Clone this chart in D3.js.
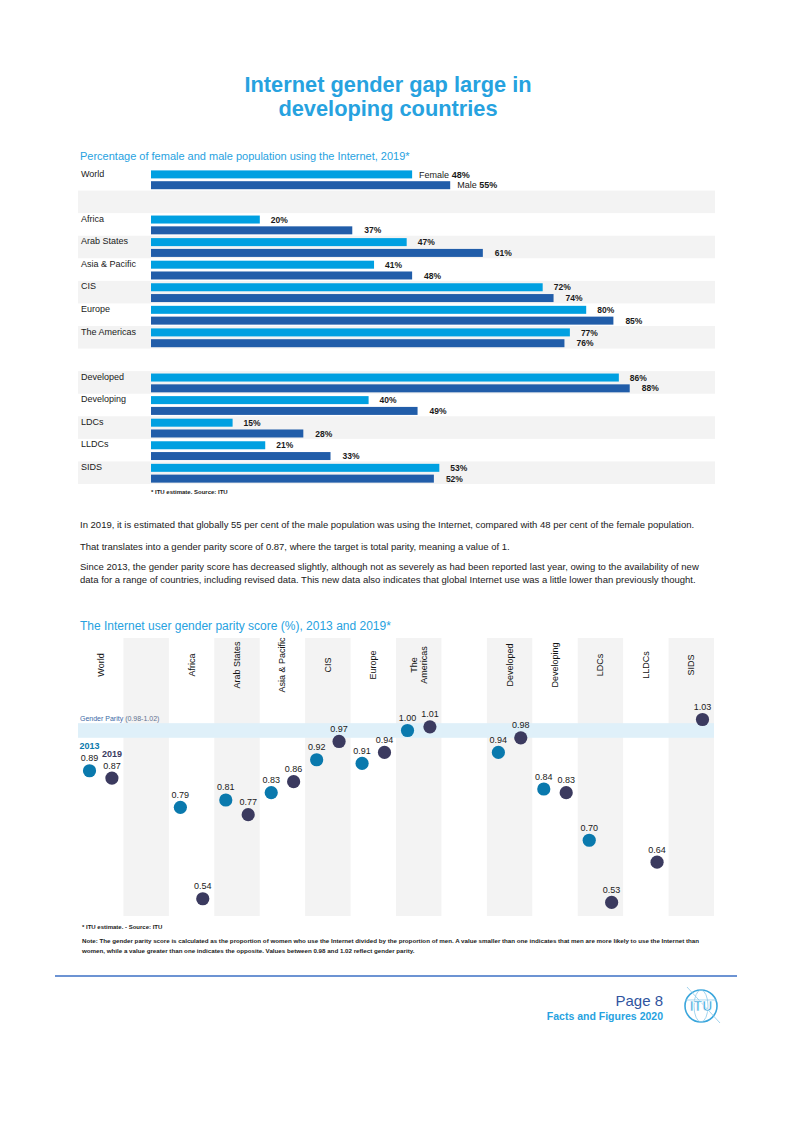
<!DOCTYPE html>
<html>
<head>
<meta charset="utf-8">
<script src="https://cdn.jsdelivr.net/npm/d3@7"></script>
<style>
  html, body { margin: 0; padding: 0; background: #fff; }
  svg { display: block; font-family: "Liberation Sans", Arial, sans-serif; }
</style>
</head>
<body>
<svg id="page" width="793" height="1122"></svg>
<script>
// ---------- DATA ----------
const barCategories = ["World", null, "Africa", "Arab States", "Asia & Pacific", "CIS", "Europe", "The Americas", null, "Developed", "Developing", "LDCs", "LLDCs", "SIDS"];
const femaleValues = [48, null, 20, 47, 41, 72, 80, 77, null, 86, 40, 15, 21, 53];
const maleValues   = [55, null, 37, 61, 48, 74, 85, 76, null, 88, 49, 28, 33, 52];

const parityCategories = [["World"], null, ["Africa"], ["Arab States"], ["Asia & Pacific"], ["CIS"], ["Europe"], ["The", "Americas"], null, ["Developed"], ["Developing"], ["LDCs"], ["LLDCs"], ["SIDS"]];
const score2013 = [0.89, null, 0.79, 0.81, 0.83, 0.92, 0.91, 1.00, null, 0.94, 0.84, 0.70, null, null];
const score2019 = [0.87, null, 0.54, 0.77, 0.86, 0.97, 0.94, 1.01, null, 0.98, 0.83, 0.53, 0.64, 1.03];
const parityBand = [0.98, 1.02];

const paragraphs = [
  ["In 2019, it is estimated that globally 55 per cent of the male population was using the Internet, compared with 48 per cent of the female population."],
  ["That translates into a gender parity score of 0.87, where the target is total parity, meaning a value of 1."],
  ["Since 2013, the gender parity score has decreased slightly, although not as severely as had been reported last year, owing to the availability of new",
   "data for a range of countries, including revised data. This new data also indicates that global Internet use was a little lower than previously thought."]
];
const noteLines = [
  "Note: The gender parity score is calculated as the proportion of women who use the Internet divided by the proportion of men. A value smaller than one indicates that men are more likely to use the Internet than",
  "women, while a value greater than one indicates the opposite. Values between 0.98 and 1.02 reflect gender parity."
];

// ---------- STYLE ----------
const C = {
  title: "#27a2df",
  female: "#00a0e1",
  male: "#215da9",
  grey: "#f3f3f3",
  band: "#dff0f9",
  d2013: "#0a79ad",
  d2019: "#3b3a5f",
  text: "#1a1a1a",
  rule: "#3b6fc4",
  page: "#2f54a0"
};

const svg = d3.select("#page");

// ---------- TITLE ----------
svg.append("text").attr("x", 388).attr("y", 92).attr("text-anchor", "middle")
  .attr("font-size", 21.8).attr("font-weight", "bold").attr("fill", C.title)
  .text("Internet gender gap large in");
svg.append("text").attr("x", 388).attr("y", 116).attr("text-anchor", "middle")
  .attr("font-size", 21.8).attr("font-weight", "bold").attr("fill", C.title)
  .text("developing countries");

// ---------- BAR CHART ----------
svg.append("text").attr("x", 80).attr("y", 160).attr("font-size", 11).attr("fill", C.title)
  .text("Percentage of female and male population using the Internet, 2019*");

const rowKeys = barCategories.map((d, i) => "r" + i);
const yRow = d3.scaleBand().domain(rowKeys).range([168, 484]).padding(0);
const xBar = d3.scaleLinear().domain([0, 100]).range([151, 695]);

const bc = svg.append("g");
rowKeys.forEach((k, i) => {
  if (i % 2 === 1) {
    bc.append("rect").attr("x", 78).attr("y", yRow(k)).attr("width", 715 - 78)
      .attr("height", yRow.bandwidth()).attr("fill", C.grey);
  }
});

const rows = bc.selectAll("g.row").data(barCategories.map((c, i) => ({ c, i, f: femaleValues[i], m: maleValues[i], k: rowKeys[i] })))
  .join("g").attr("class", "row");

rows.filter(d => d.c).each(function (d) {
  const g = d3.select(this);
  const top = yRow(d.k);
  g.append("text").attr("x", 81).attr("y", top + 8.5).attr("font-size", 9).attr("fill", C.text).text(d.c);
  g.append("rect").attr("x", xBar(0)).attr("y", top + 2.4).attr("width", xBar(d.f) - xBar(0)).attr("height", 8).attr("fill", C.female);
  g.append("rect").attr("x", xBar(0)).attr("y", top + 13.2).attr("width", xBar(d.m) - xBar(0)).attr("height", 8).attr("fill", C.male);
  if (d.i === 0) {
    const tf = g.append("text").attr("x", xBar(d.f) + 7).attr("y", top + 9.5).attr("font-size", 9).attr("fill", C.text);
    tf.append("tspan").text("Female ");
    tf.append("tspan").attr("font-weight", "bold").text(d.f + "%");
    const tm = g.append("text").attr("x", xBar(d.m) + 7).attr("y", top + 20).attr("font-size", 9).attr("fill", C.text);
    tm.append("tspan").text("Male ");
    tm.append("tspan").attr("font-weight", "bold").text(d.m + "%");
  } else {
    g.append("text").attr("x", xBar(d.f) + 11).attr("y", top + 9.5).attr("font-size", 8.5).attr("font-weight", "bold").attr("fill", C.text).text(d.f + "%");
    g.append("text").attr("x", xBar(d.m) + 12).attr("y", top + 20.3).attr("font-size", 8.5).attr("font-weight", "bold").attr("fill", C.text).text(d.m + "%");
  }
});

svg.append("text").attr("x", 151).attr("y", 494).attr("font-size", 6).attr("font-weight", "bold").attr("fill", C.text)
  .text("* ITU estimate. Source: ITU");

// ---------- PARAGRAPHS ----------
const paraY = [[528], [549.5], [570, 582.5]];
paragraphs.forEach((p, i) => {
  p.forEach((line, j) => {
    svg.append("text").attr("x", 80).attr("y", paraY[i][j]).attr("font-size", 9.5).attr("fill", C.text).text(line);
  });
});

// ---------- PARITY CHART ----------
svg.append("text").attr("x", 80).attr("y", 630).attr("font-size", 12).attr("fill", C.title)
  .text("The Internet user gender parity score (%), 2013 and 2019*");

const colKeys = parityCategories.map((d, i) => "c" + i);
const xCol = d3.scaleBand().domain(colKeys).range([78, 714]).padding(0);
const yScore = d3.scaleLinear().domain([0.5, 1.05]).range([913.4, 712.2]);

const pc = svg.append("g");
colKeys.forEach((k, i) => {
  if (i % 2 === 1) {
    pc.append("rect").attr("x", xCol(k)).attr("y", 638).attr("width", xCol.bandwidth()).attr("height", 916 - 638).attr("fill", C.grey);
  }
});

// parity band
pc.append("rect").attr("x", 78).attr("y", yScore(parityBand[1])).attr("width", 714 - 78)
  .attr("height", yScore(parityBand[0]) - yScore(parityBand[1])).attr("fill", C.band);
const gp = pc.append("text").attr("x", 80).attr("y", yScore(parityBand[1]) - 2.5).attr("font-size", 7).attr("fill", "#3d6aa6");
gp.append("tspan").text("Gender Parity ");
gp.append("tspan").attr("fill", "#5f7290").text("(" + parityBand[0].toFixed(2) + "-" + parityBand[1].toFixed(2) + ")");

// column labels
parityCategories.forEach((lines, i) => {
  if (!lines) return;
  const cx = xCol(colKeys[i]) + xCol.bandwidth() / 2;
  const n = lines.length;
  lines.forEach((ln, j) => {
    const off = (j - (n - 1) / 2) * 10 + 3;
    pc.append("text").attr("transform", `translate(${cx + off},665) rotate(-90)`)
      .attr("text-anchor", "middle").attr("font-size", 9).attr("fill", "#111").text(ln);
  });
});

// dots
const dotData = [];
parityCategories.forEach((lines, i) => {
  if (!lines) return;
  const cx = xCol(colKeys[i]) + xCol.bandwidth() / 2;
  if (score2013[i] != null) dotData.push({ x: cx - 11.2, v: score2013[i], c: C.d2013, i, yr: 2013 });
  if (score2019[i] != null) dotData.push({ x: cx + 11.2, v: score2019[i], c: C.d2019, i, yr: 2019 });
});

pc.selectAll("circle.dot").data(dotData).join("circle").attr("class", "dot")
  .attr("cx", d => d.x).attr("cy", d => yScore(d.v)).attr("r", 6.6).attr("fill", d => d.c);

pc.selectAll("text.val").data(dotData).join("text").attr("class", "val")
  .attr("x", d => d.x).attr("y", d => yScore(d.v) - 9.5).attr("text-anchor", "middle")
  .attr("font-size", 9).attr("fill", C.text).text(d => d.v.toFixed(2));

// year labels on World
dotData.filter(d => d.i === 0).forEach(d => {
  pc.append("text").attr("x", d.x).attr("y", yScore(d.v) - 21.5).attr("text-anchor", "middle")
    .attr("font-size", 9).attr("font-weight", "bold").attr("fill", d.c).text(d.yr);
});

svg.append("text").attr("x", 82).attr("y", 929).attr("font-size", 6).attr("font-weight", "bold").attr("fill", C.text)
  .text("* ITU estimate. - Source: ITU");
noteLines.forEach((ln, j) => {
  svg.append("text").attr("x", 82).attr("y", 942.5 + j * 10.5).attr("font-size", 6.2).attr("font-weight", "bold").attr("fill", C.text).text(ln);
});

// ---------- FOOTER ----------
svg.append("line").attr("x1", 55).attr("x2", 737).attr("y1", 976).attr("y2", 976).attr("stroke", C.rule).attr("stroke-width", 1.5);
svg.append("text").attr("x", 663).attr("y", 1006).attr("text-anchor", "end").attr("font-size", 15).attr("fill", C.page).text("Page 8");
svg.append("text").attr("x", 663).attr("y", 1020).attr("text-anchor", "end").attr("font-size", 10.5).attr("font-weight", "bold").attr("fill", C.title).text("Facts and Figures 2020");

// ITU logo (simple)
const logo = svg.append("g").attr("transform", "translate(701,1006)");
logo.append("circle").attr("r", 16).attr("fill", "none").attr("stroke", "#3aa6dc").attr("stroke-width", 1.6);
logo.append("ellipse").attr("rx", 7).attr("ry", 16).attr("fill", "none").attr("stroke", "#8cc9ea").attr("stroke-width", 0.8);
logo.append("line").attr("x1", -16).attr("x2", 16).attr("y1", -6).attr("y2", -6).attr("stroke", "#8cc9ea").attr("stroke-width", 0.8);
logo.append("line").attr("x1", -14).attr("x2", 19).attr("y1", -19).attr("y2", 17).attr("stroke", "#8cc9ea").attr("stroke-width", 0.8);
logo.append("text").attr("x", 0).attr("y", 5).attr("text-anchor", "middle").attr("font-size", 14).attr("font-weight", "bold")
  .attr("fill", "#3aa6dc").attr("stroke", "#fff").attr("stroke-width", 0.6).text("ITU");
</script>
</body>
</html>
